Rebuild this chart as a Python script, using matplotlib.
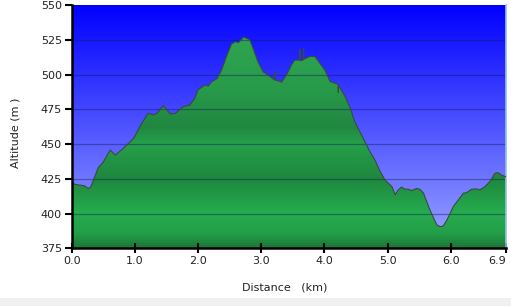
import numpy as np
import matplotlib
matplotlib.use("Agg")
import matplotlib.pyplot as plt
from matplotlib.colors import LinearSegmentedColormap

# ---- data ----
distance_km = [0.00, 0.02, 0.05, 0.12, 0.20, 0.26, 0.30, 0.36, 0.42, 0.50, 0.61, 0.69,
               0.82, 0.98, 1.11, 1.21, 1.29, 1.35, 1.45, 1.56, 1.64, 1.77, 1.87, 1.95,
               2.00, 2.11, 2.16, 2.22, 2.30, 2.37, 2.45, 2.53, 2.59, 2.64, 2.72, 2.77,
               2.82, 2.87, 2.95, 3.03, 3.14, 3.215, 3.22, 3.225, 3.30, 3.32, 3.40, 3.48,
               3.53, 3.61, 3.615, 3.62, 3.665, 3.67, 3.675, 3.72, 3.77, 3.85, 3.93, 4.01,
               4.09, 4.17, 4.215, 4.22, 4.225, 4.33, 4.41, 4.48, 4.56, 4.64, 4.72, 4.80,
               4.88, 4.96, 5.01, 5.07, 5.12, 5.17, 5.22, 5.28, 5.33, 5.38, 5.46, 5.51,
               5.57, 5.62, 5.67, 5.73, 5.78, 5.83, 5.88, 5.94, 5.99, 6.04, 6.12, 6.20,
               6.25, 6.33, 6.41, 6.46, 6.54, 6.62, 6.70, 6.75, 6.80, 6.87]
altitude_m = [426, 422, 421, 420.5, 420, 418, 419, 426, 433, 437, 445.7, 442,
              447, 454, 465, 472, 471, 472, 477.6, 471.6, 472, 477, 478, 483,
              489, 492.5, 491.7, 495, 497, 503, 513, 522, 523.6, 523, 527, 526,
              525, 519, 509, 502, 498.5, 496, 502, 496, 495, 494.4, 499.7, 507,
              510.4, 510.4, 518, 510, 510.5, 519, 511, 512, 513, 513, 508, 503,
              495, 493.7, 493, 487, 492, 484, 475.7, 466, 459, 451.7, 444.5, 438.5,
              430.5, 424, 422, 419.3, 413.5, 417, 419, 417.5, 417.5, 416.5, 418, 417.5,
              414.6, 408.5, 402.6, 396.6, 391.8, 390.6, 391, 395.4, 400, 405, 409.8, 414.6,
              415, 417.5, 417.7, 417, 419.3, 423, 429, 429.4, 427.7, 426.5]
x_ticks = [0.0, 1.0, 2.0, 3.0, 4.0, 5.0, 6.0, 6.87]
x_tick_labels = ["0.0", "1.0", "2.0", "3.0", "4.0", "5.0", "6.0", "6.9"]
y_ticks = [375, 400, 425, 450, 475, 500, 525, 550]

XMAX = 6.87
YMIN, YMAX = 375, 550

W, H = 511, 306
fig = plt.figure(figsize=(W / 100, H / 100), dpi=100)
fig.patch.set_facecolor("white")
# light grey strip along the bottom
fig.add_artist(plt.Rectangle((0, 0), 1, 8 / H, transform=fig.transFigure,
                             facecolor="#f0f0f0", edgecolor="none", zorder=0))

left, right = 71.7 / W, 505.7 / W
top, bottom = 1 - 5 / H, 1 - 248.3 / H
ax = fig.add_axes([left, bottom, right - left, top - bottom])
ax.set_xlim(0, XMAX)
ax.set_ylim(YMIN, YMAX)

# blue gradient background
sky = LinearSegmentedColormap.from_list("sky", [(0, (155/255, 165/255, 1.0)),
                                                (1, (0.0, 0.0, 1.0))])
grad = np.linspace(0, 1, 256).reshape(-1, 1)
ax.imshow(grad, aspect="auto", cmap=sky, origin="lower",
          extent=[0, XMAX, YMIN, YMAX], zorder=0)

# green gradient fill clipped to profile
def a2f(a):
    return (a - YMIN) / (YMAX - YMIN)
greens = LinearSegmentedColormap.from_list("greens", [
    (a2f(375), (28/255, 118/255, 55/255)),
    (a2f(385), (35/255, 158/255, 72/255)),
    (a2f(400), (38/255, 172/255, 78/255)),
    (a2f(425), (30/255, 135/255, 62/255)),
    (a2f(450), (38/255, 160/255, 75/255)),
    (a2f(462), (32/255, 135/255, 64/255)),
    (a2f(490), (40/255, 155/255, 75/255)),
    (a2f(550), (50/255, 172/255, 85/255)),
])
img = ax.imshow(grad, aspect="auto", cmap=greens, origin="lower",
                extent=[0, XMAX, YMIN, YMAX], zorder=1)
poly = ax.fill_between(distance_km, altitude_m, YMIN, facecolor="none",
                       edgecolor="none", zorder=1)
clip = poly.get_paths()[0]
img.set_clip_path(clip, transform=ax.transData)

ax.plot(distance_km, altitude_m, color="#3a4a40", lw=0.8, zorder=3)

# grid
for yv in y_ticks[1:-1]:
    ax.axhline(yv, color=(20/255, 30/255, 90/255), alpha=0.45, lw=0.9, zorder=2)

# spines and ticks
ax.spines["top"].set_visible(False)
ax.spines["right"].set_color("#8fc3e0")
ax.spines["right"].set_linewidth(1.2)
ax.spines["left"].set_linewidth(1.8)
ax.spines["bottom"].set_linewidth(1.8)
ax.spines["left"].set_zorder(5)
ax.spines["bottom"].set_zorder(5)

ax.set_xticks(x_ticks)
ax.set_xticklabels(x_tick_labels)
ax.set_yticks(y_ticks)
ax.tick_params(axis="x", direction="inout", length=7, width=1.5, labelsize=8,
               pad=2, colors="black")
ax.tick_params(axis="y", direction="out", length=5, width=1.5, labelsize=8,
               pad=2, colors="black")
for lbl in ax.get_xticklabels() + ax.get_yticklabels():
    lbl.set_color("#222222")
last = ax.get_xticklabels()[-1]
last.set_horizontalalignment("right")

fig.text(285 / W, 1 - 287 / H, "Distance   (km)", ha="center", va="center",
         fontsize=8, color="#222222")
fig.text(15 / W, 1 - 133 / H, "Altitude (m )", ha="center", va="center",
         rotation=90, fontsize=8, color="#222222")

fig.savefig("out.png", dpi=100)
